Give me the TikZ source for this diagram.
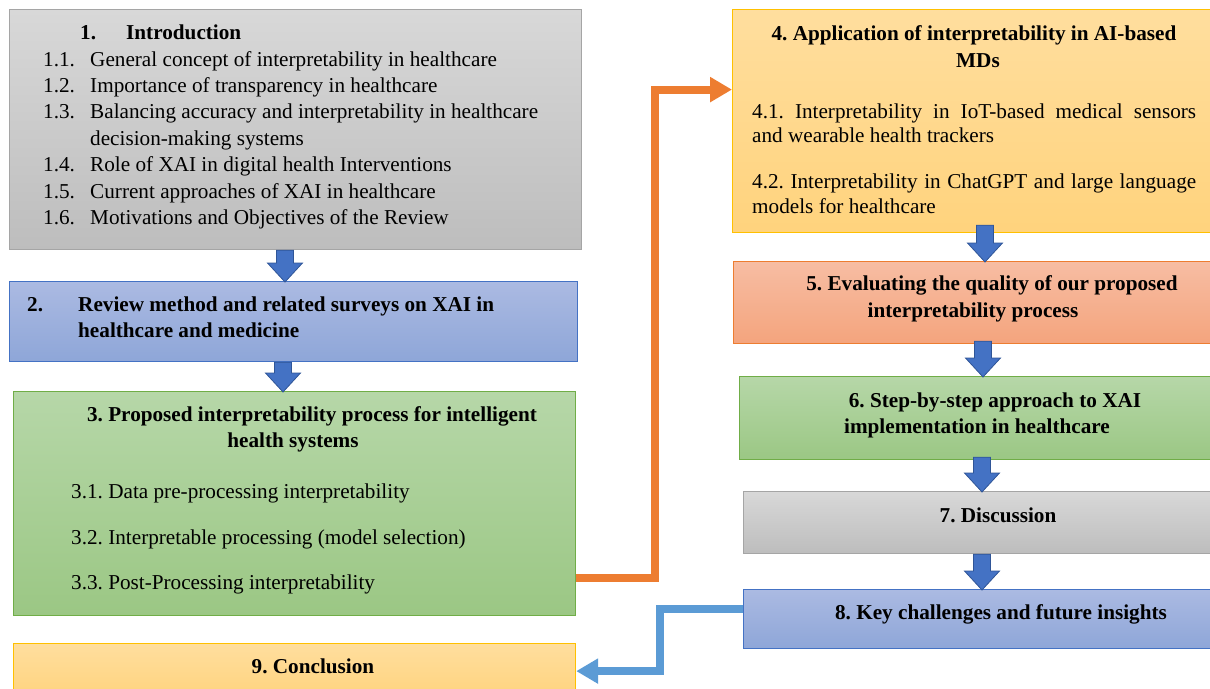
\documentclass[tikz,border=0pt]{standalone}
\usepackage{fontspec}
\setmainfont{Liberation Serif}
\usetikzlibrary{arrows.meta,calc}
\frenchspacing

\definecolor{graytop}{HTML}{D8D8D8}
\definecolor{graybot}{HTML}{BDBDBD}
\definecolor{grayedge}{HTML}{A5A5A5}
\definecolor{bluetop}{HTML}{ABBAE2}
\definecolor{bluebot}{HTML}{8EA6D8}
\definecolor{blueedge}{HTML}{4472C4}
\definecolor{greentop}{HTML}{B6D7A8}
\definecolor{greenbot}{HTML}{9BC784}
\definecolor{greenedge}{HTML}{70AD47}
\definecolor{yellowtop}{HTML}{FFDE9E}
\definecolor{yellowbot}{HTML}{FFD37D}
\definecolor{yellowedge}{HTML}{FFC000}
\definecolor{salmontop}{HTML}{F7BDA3}
\definecolor{salmonbot}{HTML}{F4A47D}
\definecolor{salmonedge}{HTML}{ED7D31}
\definecolor{arrowblue}{HTML}{4472C4}
\definecolor{arrowedge}{HTML}{2F5597}
\definecolor{orangelink}{HTML}{ED7D31}
\definecolor{bluelink}{HTML}{5B9BD5}

\tikzset{
  sect/.style={line width=1.2pt, inner sep=0pt, anchor=north west},
  graysect/.style={sect, draw=grayedge, top color=graytop, bottom color=graybot},
  bluesect/.style={sect, draw=blueedge, top color=bluetop, bottom color=bluebot},
  greensect/.style={sect, draw=greenedge, top color=greentop, bottom color=greenbot},
  yellowsect/.style={sect, draw=yellowedge, top color=yellowtop, bottom color=yellowbot},
  salmonsect/.style={sect, draw=salmonedge, top color=salmontop, bottom color=salmonbot},
  txt/.style={inner sep=0pt, anchor=base west, font=\fontsize{21.2}{25}\selectfont},
  ctxt/.style={txt, anchor=base},
  btxt/.style={txt, font=\fontsize{21.2}{25}\selectfont\bfseries},
  bctxt/.style={btxt, anchor=base},
  blockarrow/.style={fill=arrowblue, draw=arrowedge, line width=0.8pt, line join=miter},
  link/.style={line width=8pt, -{Triangle[length=22pt,width=24pt]}},
}

% block arrow: from node, to node, x position, overlap at the top
\newcommand{\flowdown}[4]{%
  \draw[blockarrow] let \p1=(#1.south), \p2=(#2.north) in
    ({(#3-8.5)*1pt},{\y1+#4pt}) -- ({(#3+8.5)*1pt},{\y1+#4pt})
    -- ({(#3+8.5)*1pt},{\y2+18pt}) -- ({(#3+17.5)*1pt},{\y2+18pt})
    -- ({#3*1pt},{\y2-1pt}) -- ({(#3-17.5)*1pt},{\y2+18pt})
    -- ({(#3-8.5)*1pt},{\y2+18pt}) -- cycle;}

\begin{document}
\begin{tikzpicture}[x=1pt, y=-1pt]
  \useasboundingbox (0,0) rectangle (1210,688);

  % left column
  \node[graysect, minimum width=572pt, minimum height=240pt] (sec1) at (9,9) {};
  \node[bluesect, minimum width=568pt, minimum height=80pt] (sec2) at (9,281) {};
  \node[greensect, minimum width=562pt, minimum height=224pt] (sec3) at (13,391) {};
  \node[yellowsect, minimum width=562pt, minimum height=55pt] (sec9) at (13,643) {};

  % right column
  \node[yellowsect, minimum width=480pt, minimum height=223pt] (sec4) at (732,9) {};
  \node[salmonsect, minimum width=480pt, minimum height=82pt] (sec5) at (733,261) {};
  \node[greensect, minimum width=474pt, minimum height=83pt] (sec6) at (739,376) {};
  \node[graysect, minimum width=470pt, minimum height=62pt] (sec7) at (743,491) {};
  \node[bluesect, minimum width=470pt, minimum height=59pt] (sec8) at (743,589) {};

  % section 1
  \node[btxt] (n1) at (80,39) {1.};
  \node[btxt] (t1) at (126,39) {Introduction};
  \foreach \num/\lab/\yy [count=\i] in {
    1.1./General concept of interpretability in healthcare/66,
    1.2./Importance of transparency in healthcare/92,
    1.3./Balancing accuracy and interpretability in healthcare/118,
    1.4./Role of XAI in digital health Interventions/171,
    1.5./Current approaches of XAI in healthcare/198,
    1.6./Motivations and Objectives of the Review/224} {
    \node[txt] (n1\i) at (43,\yy) {\num};
    \node[txt] (i1\i) at (90,\yy) {\lab};
  }
  \node[txt] (i13b) at (90,145) {decision-making systems};

  % section 2
  \node[btxt] (n2) at (27,311) {2.};
  \node[btxt] (t2a) at (78,311) {Review method and related surveys on XAI in};
  \node[btxt] (t2b) at (78,337) {healthcare and medicine};

  % section 3
  \node[bctxt] (t3a) at (312,421) {3. Proposed interpretability process for intelligent};
  \node[bctxt] (t3b) at (293,447) {health systems};
  \node[txt] (i31) at (71,498) {3.1. Data pre-processing interpretability};
  \node[txt] (i32) at (71,544) {3.2. Interpretable processing (model selection)};
  \node[txt] (i33) at (71,589) {3.3. Post-Processing interpretability};

  % section 9
  \node[bctxt] (t9) at (313,673) {9. Conclusion};

  % section 4
  \node[bctxt] (t4a) at (974,40) {4. Application of interpretability in AI-based};
  \node[bctxt] (t4b) at (978,67) {MDs};
  \node[txt] (i41a) at (752,118) {\makebox[444pt][s]{4.1. Interpretability in IoT-based medical sensors}};
  \node[txt] (i41b) at (752,142) {and wearable health trackers};
  \node[txt] (i42a) at (752,188) {\makebox[444pt][s]{4.2. Interpretability in ChatGPT and large language}};
  \node[txt] (i42b) at (752,213) {models for healthcare};

  % sections 5 to 8
  \node[bctxt] (t5a) at (992,290) {5. Evaluating the quality of our proposed};
  \node[bctxt] (t5b) at (973,317) {interpretability process};
  \node[bctxt] (t6a) at (995,407) {6. Step-by-step approach to XAI};
  \node[bctxt] (t6b) at (977,433) {implementation in healthcare};
  \node[bctxt] (t7) at (998,522) {7. Discussion};
  \node[bctxt] (t8) at (1001,619) {8. Key challenges and future insights};

  % block arrows
  \flowdown{sec1}{sec2}{285}{0}
  \flowdown{sec2}{sec3}{283}{0}
  \flowdown{sec4}{sec5}{985}{8}
  \flowdown{sec5}{sec6}{983}{3}
  \flowdown{sec6}{sec7}{982}{3}
  \flowdown{sec7}{sec8}{982}{0}

  % links between columns
  \draw[link, orangelink] ([yshift=-74pt]sec3.east)
    -| ([xshift=-77pt, yshift=31.5pt]sec4.west) -- ([yshift=31.5pt]sec4.west);
  \draw[link, bluelink] ([yshift=10.5pt]sec8.west)
    -| ([xshift=84pt]sec9.east) -- (sec9.east);
\end{tikzpicture}
\end{document}
